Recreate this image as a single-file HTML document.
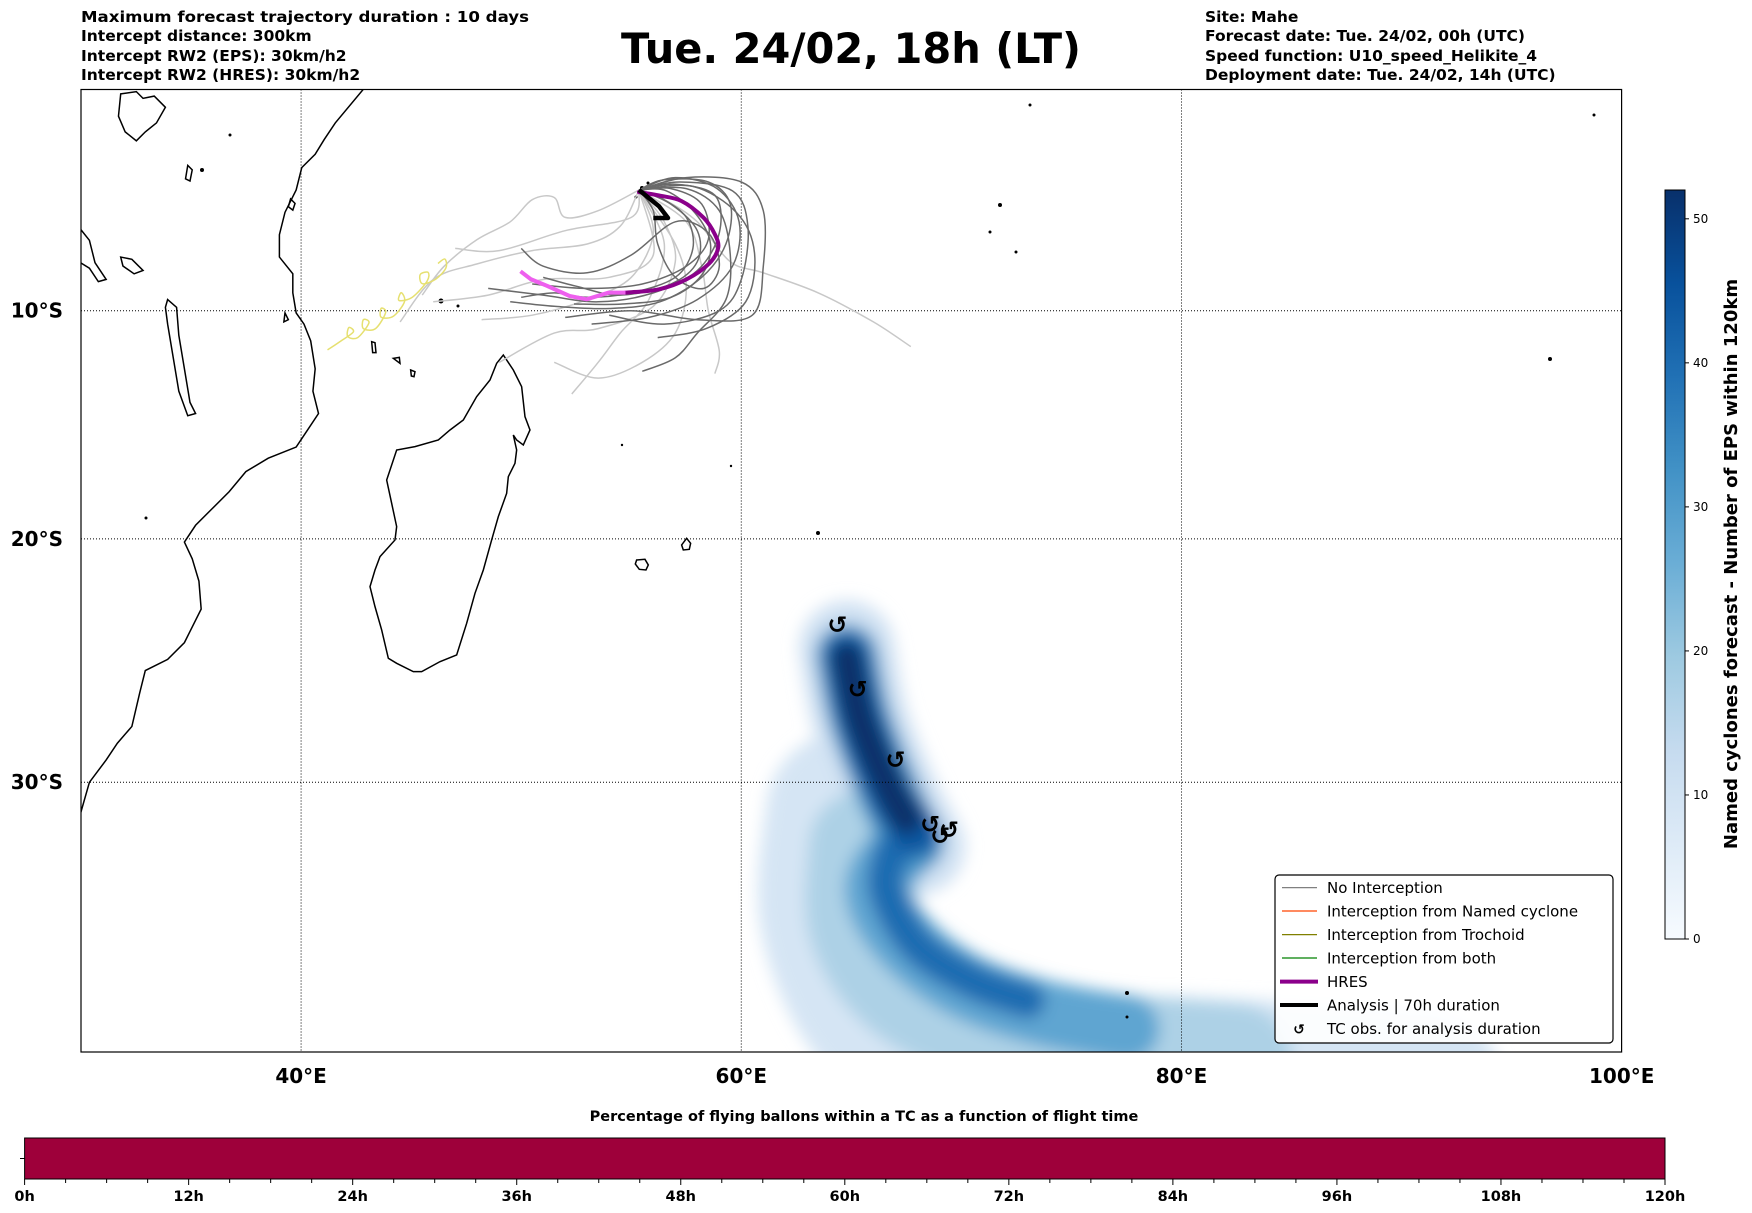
<!DOCTYPE html>
<html><head><meta charset="utf-8"><style>
html,body{margin:0;padding:0;background:#fff}
svg{display:block;font-family:"DejaVu Sans","Liberation Sans",sans-serif}
.b{font-weight:bold}
</style></head><body>
<svg id="fig" width="1752" height="1213" viewBox="0 0 1752 1213" xmlns="http://www.w3.org/2000/svg">
<defs>
<clipPath id="mapclip"><rect x="81" y="89.5" width="1540.6" height="962.5"/></clipPath>
<filter id="blur" x="-20%" y="-20%" width="140%" height="140%"><feGaussianBlur stdDeviation="8"/></filter>
<linearGradient id="blues" x1="0" y1="1" x2="0" y2="0">
<stop offset="0" stop-color="#f7fbff"/><stop offset="0.125" stop-color="#deebf7"/><stop offset="0.25" stop-color="#c6dbef"/><stop offset="0.375" stop-color="#9ecae1"/><stop offset="0.5" stop-color="#6baed6"/><stop offset="0.625" stop-color="#4292c6"/><stop offset="0.75" stop-color="#2171b5"/><stop offset="0.875" stop-color="#08519c"/><stop offset="1" stop-color="#08306b"/>
</linearGradient>
</defs>

<g class="b" font-size="15.5">
<text x="81" y="22" textLength="448" lengthAdjust="spacingAndGlyphs">Maximum forecast trajectory duration : 10 days</text>
<text x="81" y="41">Intercept distance: 300km</text>
<text x="81" y="61">Intercept RW2 (EPS):  30km/h2</text>
<text x="81" y="80">Intercept RW2 (HRES): 30km/h2</text>
</g>
<text x="851" y="63" text-anchor="middle" class="b" font-size="42" textLength="460" lengthAdjust="spacingAndGlyphs">Tue. 24/02, 18h (LT)</text>
<g class="b" font-size="15.5">
<text x="1205" y="22">Site: Mahe</text>
<text x="1205" y="41">Forecast date: Tue. 24/02, 00h (UTC)</text>
<text x="1205" y="61">Speed function: U10_speed_Helikite_4</text>
<text x="1205" y="80">Deployment date: Tue. 24/02, 14h (UTC)</text>
</g>

<g id="map">
<g clip-path="url(#mapclip)">
<g id="density" filter="url(#blur)" fill="none" stroke-linecap="round" stroke-linejoin="round"></g>
<g id="grid"></g>
<g fill="none" stroke="#000" stroke-width="1.5">
<g transform="scale(1.1176)">
<path vector-effect="non-scaling-stroke" d="M325,80 L300,110 290,125 282,138 270,150 265,170 255,190 250,210 250,230 262,245 262,262 265,280 272,290 278,305 282,330 280,350 285,370 275,385 265,400 240,410 220,422 205,440 190,455 175,470 165,485 172,500 178,520 180,545 170,565 165,575 150,590 130,600 125,620 118,650 105,665 95,680 80,700 72,728"/>
<path vector-effect="non-scaling-stroke" d="M108,84 L122,82 128,88 138,86 148,96 140,110 130,118 122,126 112,118 106,104 Z"/>
<path vector-effect="non-scaling-stroke" d="M72,205 L80,215 85,235 95,250 88,252 80,240 72,235"/>
<path vector-effect="non-scaling-stroke" d="M150,268 L158,275 160,300 165,330 170,360 175,370 168,372 160,350 155,320 150,290 148,275 Z"/>
<path vector-effect="non-scaling-stroke" d="M108,230 L118,232 128,242 120,245 110,238 Z"/>
<path vector-effect="non-scaling-stroke" d="M168,148 L172,152 170,162 166,160 Z"/>
<path vector-effect="non-scaling-stroke" d="M260,178 L264,182 262,188 258,185 Z"/>
<path vector-effect="non-scaling-stroke" d="M255,280 L258,286 254,288 Z"/>
</g>
<g transform="translate(350,330) scale(0.3333)">
<path vector-effect="non-scaling-stroke" d="M460,75 L490,120 515,170 525,260 540,300 520,345 500,330 490,315 500,360 495,400 475,440 470,490 445,560 425,630 400,720 375,790 350,880 320,975 270,995 215,1025 190,1025 140,1000 115,985 95,900 75,830 60,770 75,720 90,680 135,630 140,590 125,520 110,450 140,360 195,350 265,330 300,300 340,270 380,200 420,150 440,100 Z"/>
<path vector-effect="non-scaling-stroke" d="M860,690 L885,688 895,705 888,720 868,718 856,702 Z"/>
<path vector-effect="non-scaling-stroke" d="M1010,625 L1022,640 1018,658 1000,660 995,645 Z"/>
<path vector-effect="non-scaling-stroke" d="M65,35 L75,38 78,68 68,68 Z M130,85 L148,82 150,100 Z M182,120 L195,125 192,140 184,138 Z"/>
</g>
</g>
<g fill="#000">
<circle cx="642" cy="188" r="2"/><circle cx="648" cy="183" r="1.5"/><circle cx="636" cy="197" r="1.5"/><circle cx="1000" cy="205" r="2"/><circle cx="990" cy="232" r="1.5"/><circle cx="1016" cy="252" r="1.5"/><circle cx="1030" cy="105" r="1.5"/><circle cx="1550" cy="359" r="2"/><circle cx="818" cy="533" r="2"/><circle cx="441" cy="301" r="2.5"/><circle cx="458" cy="306" r="1.5"/><circle cx="146" cy="518" r="1.5"/><circle cx="622" cy="445" r="1.2"/><circle cx="731" cy="466" r="1.2"/><circle cx="1127" cy="993" r="2"/><circle cx="1127" cy="1017" r="1.5"/><circle cx="202" cy="170" r="2"/><circle cx="230" cy="135" r="1.5"/><circle cx="1594" cy="115" r="1.5"/>
</g>
<g id="trajs" fill="none"></g>
<g id="tcobs"></g>
</g>
<rect x="81" y="89.5" width="1540.6" height="962.5" fill="none" stroke="#000" stroke-width="1.2"/>
<g id="lonlabels" class="b" font-size="20" text-anchor="middle"></g>
<g id="latlabels" class="b" font-size="20" text-anchor="end"></g>
</g>

<g>
<rect x="1275" y="875" width="338" height="168" rx="4" fill="#fff" fill-opacity="0.9" stroke="#000" stroke-width="1.2"/>
<g font-size="15">
<line x1="1282" y1="887.6" x2="1317" y2="887.6" stroke="#808080" stroke-width="1.2"/><text x="1327" y="893">No Interception</text>
<line x1="1282" y1="911" x2="1317" y2="911" stroke="#ff4500" stroke-width="1.2"/><text x="1327" y="916.5">Interception from Named cyclone</text>
<line x1="1282" y1="934.6" x2="1317" y2="934.6" stroke="#808000" stroke-width="1.2"/><text x="1327" y="940">Interception from Trochoid</text>
<line x1="1282" y1="958" x2="1317" y2="958" stroke="#008000" stroke-width="1.2"/><text x="1327" y="963.5">Interception from both</text>
<line x1="1280" y1="981.6" x2="1318" y2="981.6" stroke="#8b008b" stroke-width="4"/><text x="1327" y="987">HRES</text>
<line x1="1280" y1="1005" x2="1318" y2="1005" stroke="#000" stroke-width="4"/><text x="1327" y="1010.5">Analysis | 70h duration</text>
<text x="1299" y="1034" text-anchor="middle" class="b" font-size="14">↺</text><text x="1327" y="1034">TC obs. for analysis duration</text>
</g>
</g>

<g>
<rect x="1665" y="190" width="20" height="749" fill="url(#blues)" stroke="#000" stroke-width="1"/>
<g id="cbticks" font-size="12"></g>
<text transform="translate(1737,564) rotate(-90)" text-anchor="middle" class="b" font-size="18">Named cyclones forecast - Number of EPS within 120km</text>
</g>

<g>
<text x="864" y="1121" text-anchor="middle" class="b" font-size="14.5">Percentage of flying ballons within a TC as a function of flight time</text>
<rect x="24.6" y="1138" width="1640.4" height="41" fill="#9e003a" stroke="#000" stroke-width="1"/>
<line x1="20" y1="1158.5" x2="24.6" y2="1158.5" stroke="#000"/>
<g id="hticks" class="b" font-size="14.5" text-anchor="middle"></g>
</g>
</svg>
<script>
// ---- data ----
const gridLons = [40, 60, 80];
const gridLats = [10, 20, 30];
const lonTickLabels = ["40°E", "60°E", "80°E", "100°E"];
const lonTickValues = [40, 60, 80, 100];
const latTickLabels = ["10°S", "20°S", "30°S"];
const cbTicks = [0, 10, 20, 30, 40, 50];
const cbMax = 52;
const hourTicks = [0, 12, 24, 36, 48, 60, 72, 84, 96, 108, 120];

const hresLon = [55.35,56.26,57.28,58.29,58.80,58.95,58.54,57.53,56.26,54.74,53.98,52.97,52.20,51.19,50.43,49.97];
const hresLat = [4.66,4.81,5.06,5.82,6.57,7.18,7.88,8.58,9.04,9.19,9.19,9.49,9.34,8.89,8.58,8.23];
const hresSplit = 9;
const analysisLon = [55.35,56.26,56.67,56.0];
const analysisLat = [4.56,5.3,5.83,5.83];
const yellowLon = [41.20,41.81,42.37,42.17,42.12,42.57,43.08,42.83,42.83,43.38,43.84,43.64,43.64,44.20,44.70,44.55,44.45,45.06,45.72,45.77,45.41,45.51,46.12,46.58,46.53,46.22];
const yellowLat = [11.75,11.35,10.95,10.75,11.15,11.20,10.55,10.40,10.80,10.80,10.09,9.89,10.29,10.24,9.59,9.19,9.54,9.39,8.68,8.28,8.38,8.79,8.58,8.08,7.68,7.88];

const darkTracks = [
 [[55.35,4.56],[56.5,4.1],[58.5,4.2],[59.5,5.2],[59.3,7.0],[58.2,8.5],[56.3,9.6],[54.0,9.9],[51.5,9.8],[49.5,9.6]],
 [[55.35,4.56],[57,4.3],[58.8,4.8],[59.0,6.5],[58,8.2],[56,9.2],[53.5,9.6],[51,9.3],[48.5,9.0]],
 [[55.35,4.56],[56.8,4.5],[58.2,5.2],[58.5,6.8],[57.5,8.0],[55.5,8.8],[53,9.0],[50.5,8.8]],
 [[55.35,4.56],[57.5,4.0],[60,4.2],[61,5.5],[61,8],[60.5,10.2],[58,10.4],[55,10.0],[52,10.3]],
 [[55.35,4.56],[57.5,4.5],[59,5.5],[59.5,7.5],[59.3,9.5],[58,11],[57,12.1],[55.5,12.7]],
 [[55.35,4.56],[56,5.5],[56.2,7.0],[57,8.5],[58.3,9.0],[59,8],[58.5,6.5],[57,6.0],[55,7.5],[53,8.3],[51,8.0],[50,7.2]],
 [[55.35,4.56],[56.3,4.9],[57.5,5.8],[57.8,7.2],[57,8.5],[55,9.2],[53,9.4],[51.5,9.2],[50,9.4]],
 [[55.35,4.56],[57.2,4.2],[59.6,4.6],[60.3,6.2],[60.0,8.6],[59,10.0],[56.5,10.6],[54,10.2]],
 [[55.35,4.56],[56.8,5.2],[58.0,6.4],[58.0,7.8],[56.8,8.8],[54.5,9.3],[52.5,8.9],[51,8.5]],
 [[55.35,4.56],[57.8,4.4],[59.8,5.6],[60.6,7.4],[60.2,9.6],[58.4,10.8],[56.2,11.2]],
 [[55.35,4.56],[56.6,4.6],[57.9,5.6],[58.6,7.0],[58.2,8.4],[56.8,9.4],[54.6,9.7],[52.4,9.7]],
 [[55.35,4.56],[57.0,4.0],[58.9,4.5],[59.9,6.0],[59.6,8.0],[58.0,9.5],[55.8,10.3],[53.2,10.6]]
];
const lightTracks = [
 [[55.35,4.56],[56.5,5],[58,6],[59.5,7.8],[61,8.3],[63.5,9.2],[66,10.5],[67.7,11.6]],
 [[55.35,4.56],[53.5,5.5],[52,5.8],[51.5,4.9],[50.5,5.0],[49.5,6.0],[48,6.8],[46.5,8.0],[45.5,9.3]],
 [[55.35,4.56],[54.5,6.2],[53,7.0],[50.5,7.3],[48,7.9],[46,8.6],[44.5,10.5]],
 [[55.35,4.56],[56.5,6],[57,7.8],[56,9.8],[53.5,10.8],[51.5,11.0],[49,12.3]],
 [[55.35,4.56],[57.5,6],[58.2,8],[58.5,10],[59.0,11.8],[58.8,12.8]],
 [[55.35,4.56],[56,6.5],[55,8.5],[53,9.5],[50.5,10.2],[48.2,10.4]],
 [[55.35,4.56],[56.5,7],[55.8,9.5],[54.5,11],[53.5,12.3],[52.3,13.7]],
 [[55.35,4.56],[55,5.8],[52,6.4],[49,7.3],[47,7.2]],
 [[55.35,4.56],[57,7],[57.5,9],[57,11],[55.5,12.3],[53.5,13.0],[51.5,12.3]],
 [[55.35,4.56],[56,7.5],[54,8.5],[51,8.6],[48.5,9.3],[46,9.6]]
];

const tcLon = [64.37, 65.29, 67.01, 68.58, 69.44, 69.04];
const tcLat = [23.62, 26.28, 29.12, 31.64, 31.86, 32.1];

// density bands: path (lon/lat), count value, band width in degrees
const haloLon = [64.8,65.4,66.7,68.0];
const haloLat = [24.6,27.5,30.4,32.5];
const haloVal = 10; const haloWidth = 3.8;
const band1Lon = [64.8,64.5,66.3,69.5,74.5,80,85.5,91];
const band1Lat = [31.2,35,38.4,40,40.8,40.9,41.1,41.4];
const band1Val = 9;  const band1Width = 6.4;
const band2Lon = [65.6,65.6,67.8,72,77,82.5];
const band2Lat = [32.5,35.5,37.9,39.3,39.9,40.3];
const band2Val = 17; const band2Width = 4.4;
const band3Lon = [67.6,66.2,67.3,70,73.5,77.5];
const band3Lat = [32.3,34,35.9,37.6,38.6,39.2];
const band3Val = 28; const band3Width = 2.6;
const band3tLon = [64.8,65.4,66.7,67.8];
const band3tLat = [24.9,27.5,30.4,32.3];
const band3tVal = 32; const band3tWidth = 2.5;
const band4aLon = [64.8,65.4,66.7,67.9];
const band4aLat = [24.9,27.5,30.4,32.0];
const band4aVal = 44; const band4aWidth = 1.8;
const band4bLon = [66.8,66.6,68,70.5,73];
const band4bLat = [32.8,34.2,36.2,37.5,38.2];
const band4bVal = 40; const band4bWidth = 1.4;
const band5Lon = [64.8,65.4,66.6,67.5];
const band5Lat = [25.0,27.5,30.0,31.4];
const band5Val = 52; const band5Width = 1.3;

// ---- axes ----
const PXDEG = 22.01;
function X(lon){ return 81 + (lon - 30) * PXDEG; }
function Y(lat){ return 89.5 + PXDEG * 57.2958 * Math.log(Math.tan(Math.PI/4 + lat*Math.PI/360)); }
const NS = "http://www.w3.org/2000/svg";
function mk(tag, attrs, parent){ const e = document.createElementNS(NS, tag); for (const k in attrs) e.setAttribute(k, attrs[k]); parent.appendChild(e); return e; }
function smoothPath(pts){
  let d = "M" + pts[0][0].toFixed(1) + "," + pts[0][1].toFixed(1);
  for (let i = 0; i < pts.length - 1; i++){
    const p0 = pts[i-1] || pts[i], p1 = pts[i], p2 = pts[i+1], p3 = pts[i+2] || p2;
    const c1 = [p1[0] + (p2[0]-p0[0])/6, p1[1] + (p2[1]-p0[1])/6];
    const c2 = [p2[0] - (p3[0]-p1[0])/6, p2[1] - (p3[1]-p1[1])/6];
    d += " C" + c1.map(v=>v.toFixed(1)).join(",") + " " + c2.map(v=>v.toFixed(1)).join(",") + " " + p2.map(v=>v.toFixed(1)).join(",");
  }
  return d;
}
const stops = [[0,[247,251,255]],[0.125,[222,235,247]],[0.25,[198,219,239]],[0.375,[158,202,225]],[0.5,[107,174,214]],[0.625,[66,146,198]],[0.75,[33,113,181]],[0.875,[8,81,156]],[1,[8,48,107]]];
function blues(v){
  const t = Math.max(0, Math.min(1, v / cbMax));
  for (let i = 0; i < stops.length - 1; i++){
    if (t <= stops[i+1][0]){
      const f = (t - stops[i][0]) / (stops[i+1][0] - stops[i][0]);
      const c = stops[i][1].map((a,j)=>Math.round(a + (stops[i+1][1][j]-a)*f));
      return "rgb(" + c.join(",") + ")";
    }
  }
  return "rgb(8,48,107)";
}

// density
const dens = document.getElementById("density");
function band(lons, lats, val, w){
  const p = mk("path", {d: smoothPath(lons.map((lon,i)=>[X(lon), Y(lats[i])])), stroke: blues(val), "stroke-width": w * PXDEG * 1.15}, dens);
  
  
}
band(band1Lon, band1Lat, band1Val, band1Width);
band(haloLon, haloLat, haloVal, haloWidth);
band(band2Lon, band2Lat, band2Val, band2Width);
band(band3Lon, band3Lat, band3Val, band3Width);
band(band3tLon, band3tLat, band3tVal, band3tWidth);
band(band4bLon, band4bLat, band4bVal, band4bWidth);
band(band4aLon, band4aLat, band4aVal, band4aWidth);
band(band5Lon, band5Lat, band5Val, band5Width);

// grid
const grid = document.getElementById("grid");
gridLons.forEach(lon => {
  const l = mk("line", {x1: X(lon), x2: X(lon), y1: 89.5, y2: 1052, stroke: "#000", "stroke-width": 1, "stroke-dasharray": "1,2"}, grid);
  
  
});
gridLats.forEach(lat => {
  const l = mk("line", {x1: 81, x2: 1621.6, y1: Y(lat), y2: Y(lat), stroke: "#000", "stroke-width": 1, "stroke-dasharray": "1,2"}, grid);
  
  
});

// trajectories
const tr = document.getElementById("trajs");
lightTracks.forEach(t => {
  const p = mk("path", {d: smoothPath(t.map(q=>[X(q[0]),Y(q[1])])), stroke: "#c8c8c8", "stroke-width": 1.5}, tr);
  
  
});
darkTracks.forEach(t => {
  const p = mk("path", {d: smoothPath(t.map(q=>[X(q[0]),Y(q[1])])), stroke: "#6a6a6a", "stroke-width": 1.5}, tr);
  
  
});
const yl = mk("path", {d: smoothPath(yellowLon.map((lon,i)=>[X(lon),Y(yellowLat[i])])), stroke: "#e6e070", "stroke-width": 1.5}, tr);


const hpts = hresLon.map((lon,i)=>[X(lon),Y(hresLat[i])]);
const h1 = mk("path", {d: smoothPath(hpts.slice(0, hresSplit+1)), stroke: "#8b008b", "stroke-width": 4, "stroke-linecap": "round"}, tr);


const h2 = mk("path", {d: "M" + hpts.slice(hresSplit).map(p=>p[0].toFixed(1)+","+p[1].toFixed(1)).join(" L"), stroke: "#ee5fee", "stroke-width": 4, "stroke-linejoin": "round"}, tr);


const an = mk("path", {d: "M" + analysisLon.map((lon,i)=>X(lon).toFixed(1)+","+Y(analysisLat[i]).toFixed(1)).join(" L"), stroke: "#000", "stroke-width": 4.5, "stroke-linejoin": "round"}, tr);



// TC obs
const tc = document.getElementById("tcobs");
tcLon.forEach((lon, i) => {
  const t = mk("text", {x: X(lon), y: Y(tcLat[i]) + 8, "text-anchor": "middle", "font-size": 24, "font-weight": "bold"}, tc);
  t.textContent = "↺";
  
  
});

// axis labels
const lonG = document.getElementById("lonlabels");
lonTickValues.forEach((lon, i) => {
  const t = mk("text", {x: X(lon), y: 1083}, lonG);
  t.textContent = lonTickLabels[i];
  
  
});
const latG = document.getElementById("latlabels");
gridLats.forEach((lat, i) => {
  const t = mk("text", {x: 63, y: Y(lat) + 7}, latG);
  t.textContent = latTickLabels[i];
  
  
});

// colorbar ticks
const cb = document.getElementById("cbticks");
cbTicks.forEach(v => {
  const y = 939 - v / cbMax * 749;
  mk("line", {x1: 1685, x2: 1689, y1: y, y2: y, stroke: "#000"}, cb);
  const t = mk("text", {x: 1693, y: y + 4}, cb);
  t.textContent = v;
  
  
});

// hour ticks
const ht = document.getElementById("hticks");
for (let h = 0; h <= 120; h += 3){
  const x = 24.6 + h / 120 * 1640.4;
  mk("line", {x1: x, x2: x, y1: 1179, y2: hourTicks.includes(h) ? 1185 : 1183, stroke: "#000"}, ht);
}
hourTicks.forEach(h => {
  const t = mk("text", {x: 24.6 + h / 120 * 1640.4, y: 1201}, ht);
  t.textContent = h + "h";
  
  
});
</script>
</body></html>
